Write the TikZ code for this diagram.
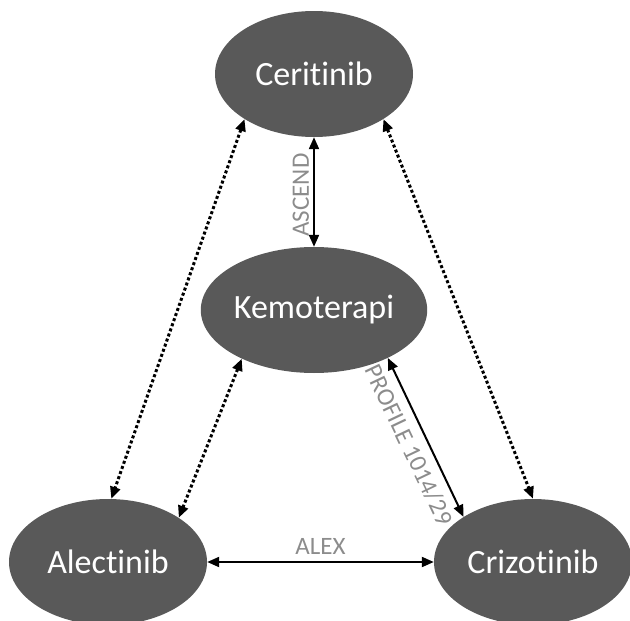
\documentclass[tikz,border=0pt]{standalone}
\usepackage{fontspec}
\setmainfont{Carlito}[Ligatures=NoCommon]
\usetikzlibrary{shapes.geometric,arrows.meta}
\definecolor{drugfill}{HTML}{595959}
\definecolor{trialgray}{HTML}{8C8C8C}
\begin{document}
\begin{tikzpicture}
        [
            x = 1pt, y = -1pt,
            drug/.style = {ellipse, fill=drugfill, text=white, minimum width=198pt, minimum height=126pt, inner sep=0pt, font=\fontsize{34}{40}\selectfont},
            trial/.style = {text=trialgray, font=\fontsize{25}{28}\selectfont, inner sep=4pt},
            link/.style = {{Triangle[length=12pt,width=10pt]}-{Triangle[length=12pt,width=10pt]}, line width=2pt},
            maybe/.style = {link, line width=3pt, dash pattern=on 3pt off 2.4pt},
        ]
        \useasboundingbox (0,0) rectangle (630,621);
        \node[drug] (cer) at (314,74) {Ceritinib};
        \node[drug] (kem) at (314,310) {Kemoterapi};
        \node[drug] (ale) at (108,562) {Alectinib};
        \node[drug] (cri) at (533,562) {Crizotinib};
        \draw[link] (cer) -- node[trial, rotate=90, anchor=south, xshift=-3pt] {ASCEND} (kem);
        \draw[link] (kem.327) -- node[trial, sloped, below, yshift=-4pt] {PROFILE 1014/29} (cri.147);
        \draw[link] (ale) -- node[trial, above, yshift=3pt] {ALEX} (cri);
        \draw[maybe] (cer.213) -- (ale.87);
        \draw[maybe] (cer.327) -- (cri.90);
        \draw[maybe] (kem.214) -- (ale.32);
    \end{tikzpicture}
\end{document}
